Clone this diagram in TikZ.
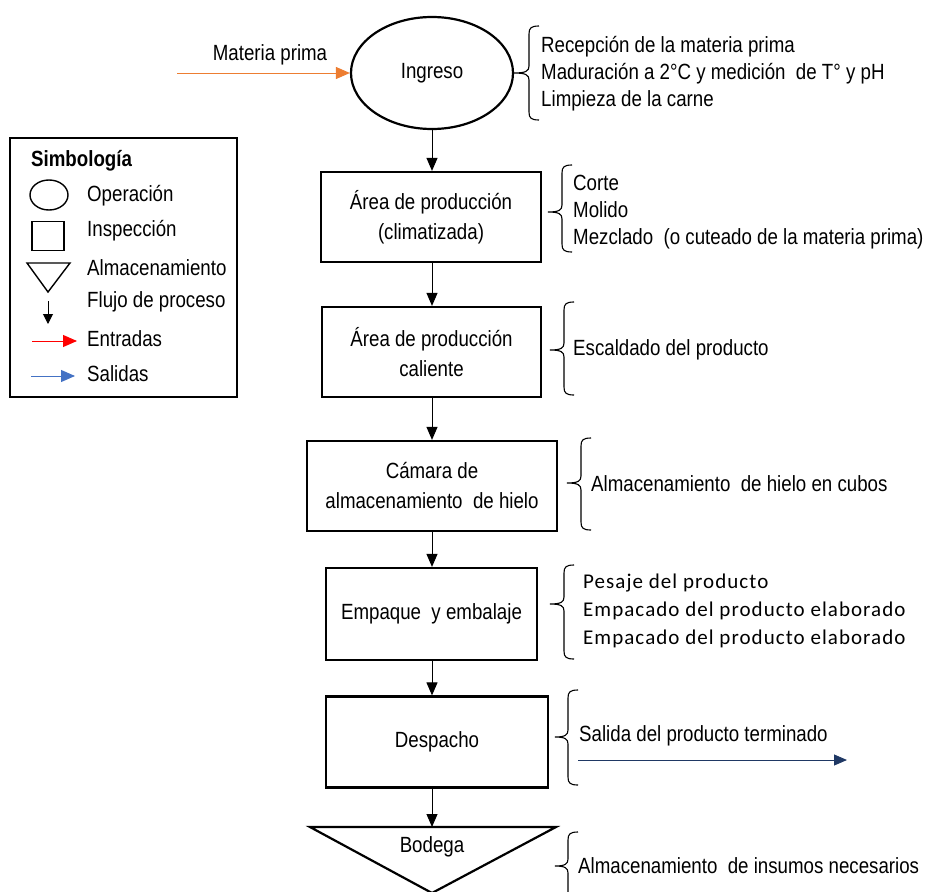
\documentclass[tikz,border=0pt]{standalone}
\usepackage{fontspec}
\setmainfont[FakeStretch=0.85]{Liberation Sans}
\newfontfamily\calib[LetterSpace=5]{Carlito}
\usetikzlibrary{shapes.geometric,arrows.meta}
\definecolor{orangeA}{HTML}{ED7D31}
\definecolor{blueA}{HTML}{4472C4}
\definecolor{navyA}{HTML}{1F3864}
% office-like curly brace: vertical x, top y, tip y, bottom y, tip x
\newcommand\obrace[5]{%
  \draw[line width=1.1pt] (#1+10,#2) .. controls (#1+2,#2) and (#1,#2+2) .. (#1,#2+8)
    -- (#1,#3-7) .. controls (#1,#3-2) and (#1-3,#3) .. (#5,#3)
    .. controls (#1-3,#3) and (#1,#3+2) .. (#1,#3+7)
    -- (#1,#4-8) .. controls (#1,#4-2) and (#1+2,#4) .. (#1+10,#4);}
\begin{document}
\begin{tikzpicture}[x=1pt,y=-1pt,
  font=\fontsize{22}{27}\selectfont,
  box/.style={draw, line width=2.2pt, align=center, inner sep=0pt, font=\fontsize{22}{30}\selectfont},
  flow/.style={-{Triangle[length=13pt,width=11pt]}, line width=1pt},
  txt/.style={anchor=west, inner sep=0pt, align=left}]
\useasboundingbox (0,0) rectangle (928,891);

% main flow
\node[box, ellipse, minimum width=162pt, minimum height=112pt] (ing) at (432,73) {Ingreso};
\node[box, minimum width=220pt, minimum height=90pt] (b2) at (431,217) {Área de producción\\(climatizada)};
\node[box, minimum width=219pt, minimum height=90pt] (b3) at (431.5,352) {Área de producción\\caliente};
\node[box, minimum width=250pt, minimum height=90pt] (b4) at (432,486) {Cámara de\\almacenamiento~ de hielo};
\node[box, minimum width=211pt, minimum height=92pt] (b5) at (431.5,614) {Empaque~ y embalaje};
\node[box, minimum width=222pt, minimum height=91pt] (b6) at (437,742) {Despacho};
\coordinate (bl) at (310,827);
\coordinate (br) at (556,827);
\coordinate (bt) at (432,827);
\coordinate (ba) at (432,893);
\draw[line width=2.2pt] (bl) -- (br) -- (ba) -- cycle;
\node[inner sep=0pt] (bod) at (432,847) {Bodega};

\draw[flow] (ing.south) -- (ing.south |- b2.north);
\draw[flow] (b2.south -| ing.south) -- (ing.south |- b3.north);
\draw[flow] (b3.south -| ing.south) -- (ing.south |- b4.north);
\draw[flow] (b4.south -| ing.south) -- (ing.south |- b5.north);
\draw[flow] (b5.south -| ing.south) -- (ing.south |- b6.north);
\draw[flow] (b6.south -| ing.south) -- (bt);

% input
\coordinate (mpin) at (177,73);
\draw[orangeA, line width=1pt, -{Triangle[length=14pt,width=12pt]}] (mpin) -- (ing.west);
\node[inner sep=0pt] (mp) at (270,55) {Materia prima};

% braces and notes
\obrace{529}{26}{73}{120}{514}
\node[txt] (n1) at (541,74) {Recepción de la materia prima\\Maduración a 2°C y medición~ de T° y pH\\Limpieza de la carne};
\obrace{562}{165}{212}{252}{548}
\node[txt] (n2) at (573,212) {Corte\\Molido\\Mezclado~ (o cuteado de la materia prima)};
\obrace{564}{302}{350}{395}{550}
\node[txt] (n3) at (573,350) {Escaldado del producto};
\obrace{581}{438}{483}{530}{567}
\node[txt] (n4) at (591,484) {Almacenamiento~ de hielo en cubos};
\obrace{564}{565}{604}{659}{550}
\node[txt, font=\calib\fontsize{21}{28}\selectfont] (n5) at (583,611) {Pesaje del producto\\Empacado del producto elaborado\\Empacado del producto elaborado};
\obrace{568}{690}{737}{785}{555}
\node[txt] (n6) at (579,736) {Salida del producto terminado};
\coordinate (outA) at (578,760);
\coordinate (outB) at (847,760);
\draw[navyA, line width=1pt, -{Triangle[length=13pt,width=11pt]}] (outA) -- (outB);
\obrace{568}{832}{866}{905}{555}
\node[txt] (n7) at (578,866) {Almacenamiento~ de insumos necesarios};

% legend
\node[draw, line width=2.2pt, minimum width=227pt, minimum height=259pt, inner sep=0pt] (leg) at (123.5,267.5) {};
\node[txt, font=\bfseries\fontsize{22}{27}\selectfont] (lt) at (31,161) {Simbología};
\node[draw, ellipse, line width=1.4pt, minimum width=38pt, minimum height=30pt, inner sep=0pt] (le) at (49,195) {};
\node[txt] (l1) at (87,196) {Operación};
\node[draw, line width=1.4pt, minimum width=32pt, minimum height=29pt, inner sep=0pt] (ls) at (48,236) {};
\node[txt] (l2) at (87,231) {Inspección};
\coordinate (lta) at (27,263);
\coordinate (ltb) at (70,263);
\coordinate (ltc) at (48,292);
\draw[line width=1.4pt] (lta) -- (ltb) -- (ltc) -- cycle;
\node[txt] (l3) at (87,268) {Almacenamiento};
\coordinate (lfa) at (48,301);
\coordinate (lfb) at (48,324);
\draw[line width=1pt, -{Triangle[length=10pt,width=10pt]}] (lfa) -- (lfb);
\node[txt] (l4) at (87,302) {Flujo de proceso};
\coordinate (lra) at (32,341);
\coordinate (lrb) at (77,341);
\draw[red, line width=1pt, -{Triangle[length=14pt,width=12pt]}] (lra) -- (lrb);
\node[txt] (l5) at (87,339) {Entradas};
\coordinate (lba) at (31,376);
\coordinate (lbb) at (75,376);
\draw[blueA, line width=1pt, -{Triangle[length=14pt,width=12pt]}] (lba) -- (lbb);
\node[txt] (l6) at (87,374) {Salidas};
\end{tikzpicture}
\end{document}
